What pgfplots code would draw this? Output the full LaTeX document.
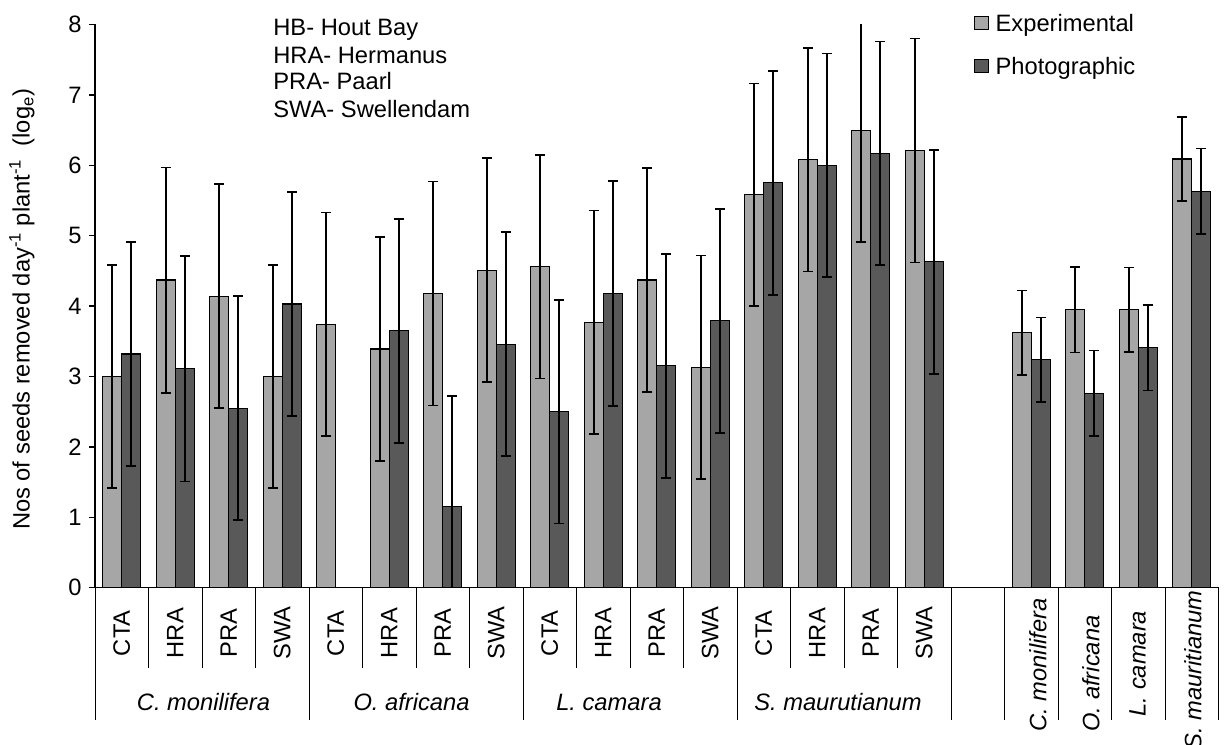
\documentclass[border=0pt]{standalone}
\usepackage{fontspec}
\setmainfont{Liberation Sans}
\usepackage{pgfplots}
\usepackage{pgfplotstable}
\pgfplotsset{compat=1.18}

\definecolor{expgray}{HTML}{A6A6A6}
\definecolor{photgray}{HTML}{595959}
\newcommand{\chartfont}{\fontsize{23.8}{28.5}\selectfont}

% Mean seeds removed (log_e) and standard errors; x = position on the axis
\pgfplotstableread{
x  y     err
0  3.00  1.58
1  4.37  1.60
2  4.14  1.59
3  3.00  1.58
4  3.74  1.59
5  3.39  1.59
6  4.18  1.59
7  4.51  1.59
8  4.56  1.59
9  3.77  1.59
10 4.37  1.59
11 3.13  1.59
12 5.58  1.58
13 6.08  1.59
14 6.50  1.59
15 6.21  1.59
17 3.62  0.60
18 3.95  0.61
19 3.95  0.60
20 6.09  0.60
}\exptable

\pgfplotstableread{
x  y     err
0  3.32  1.59
1  3.11  1.60
2  2.55  1.59
3  4.03  1.59
5  3.65  1.59
6  1.15  1.57
7  3.46  1.59
8  2.50  1.59
9  4.18  1.60
10 3.15  1.59
11 3.79  1.59
12 5.75  1.59
13 6.00  1.59
14 6.17  1.59
15 4.63  1.59
17 3.24  0.60
18 2.76  0.61
19 3.41  0.61
20 5.63  0.61
}\phototable

\pgfplotsset{
  sqlegend/.style={legend image code/.code={
    \draw[##1, line width=1bp] (0bp,1.5bp) rectangle (13.5bp,15bp);}},
  errstyle/.style={
    error bars/y dir=both, error bars/y explicit,
    error bars/error bar style={line width=1.7bp, black},
    error bars/error mark options={rotate=90, mark size=5bp, line width=1.7bp, black}},
}

\begin{document}
\begin{tikzpicture}
\useasboundingbox (-95bp,-157.3bp) rectangle (1130bp,587.7bp);
\begin{axis}[
  at={(0,0)}, anchor=south west,
  x=53.5bp, y=70.4bp,
  xmin=-0.5, xmax=20.5, ymin=0, ymax=8,
  axis lines*=left,
  axis line style={line width=1.6bp, black},
  xtick=\empty,
  ytick={0,1,...,8},
  tick align=outside, major tick length=6bp,
  tick style={line width=1.3bp, black},
  /pgf/number format/assume math mode=true,
  yticklabel style={font=\chartfont, xshift=-4bp},
  ylabel={Nos of seeds removed day\textsuperscript{-1} plant\textsuperscript{-1}\ \ (log\textsubscript{e})},
  ylabel style={font=\chartfont, at={(axis description cs:-0.065,0.494)}, anchor=center},
  ybar=0pt, bar width=19bp,
  clip mode=individual,
  legend style={at={(axis description cs:0.7825,1)}, anchor=north west, yshift=10.5bp,
    draw=none, fill=none, inner sep=0pt, outer sep=0pt,
    row sep={43bp,between origins}, column sep=0pt,
    nodes={inner xsep=7bp, inner ysep=0pt, font=\chartfont},
    cells={anchor=base west}},
]
\addplot[fill=expgray, draw=black, line width=1.1bp, sqlegend, errstyle]
  table[x=x, y=y, y error=err] {\exptable};
\addlegendentry{Experimental}
\addplot[fill=photgray, draw=black, line width=1.1bp, sqlegend, errstyle]
  table[x=x, y=y, y error=err] {\phototable};
\addlegendentry{Photographic}

% site abbreviations
\node[anchor=base west, font=\chartfont, inner sep=0pt] at (axis cs:2.83,7.837) {HB- Hout Bay};
\node[anchor=base west, font=\chartfont, inner sep=0pt] at (axis cs:2.83,7.453) {HRA- Hermanus};
\node[anchor=base west, font=\chartfont, inner sep=0pt] at (axis cs:2.83,7.070) {PRA- Paarl};
\node[anchor=base west, font=\chartfont, inner sep=0pt] at (axis cs:2.83,6.686) {SWA- Swellendam};
\end{axis}

% category table below the axis: one column per slot
\begin{scope}[x=53.5bp, y=1bp]
  \foreach \k in {1,2,3,5,6,7,9,10,11,13,14,15}
    \draw[line width=1bp] (\k,0) -- (\k,-80.3);
  \foreach \k in {0,4,8,12,16,17,18,19,20,21}
    \draw[line width=1bp] (\k,0) -- (\k,-132.3);
  \foreach \i/\s in {0/CTA,1/HRA,2/PRA,3/SWA,4/CTA,5/HRA,6/PRA,7/SWA,
                     8/CTA,9/HRA,10/PRA,11/SWA,12/CTA,13/HRA,14/PRA,15/SWA}
    \node[rotate=90, font=\chartfont, inner sep=0pt] at (\i+0.5,-45.5) {\s};
  \node[anchor=base, font=\chartfont\itshape, inner sep=0pt] at (108.5bp,-122.3bp) {C. monilifera};
  \node[anchor=base, font=\chartfont\itshape, inner sep=0pt] at (316.5bp,-122.3bp) {O. africana};
  \node[anchor=base, font=\chartfont\itshape, inner sep=0pt] at (514bp,-122.3bp) {L. camara};
  \node[anchor=base, font=\chartfont\itshape, inner sep=0pt] at (743bp,-122.3bp) {S. maurutianum};
  \node[rotate=90, font=\chartfont\itshape, inner sep=0pt] at (943bp,-77.3bp) {C. monilifera};
  \node[rotate=90, font=\chartfont\itshape, inner sep=0pt] at (996bp,-85.8bp) {O. africana};
  \node[rotate=90, font=\chartfont\itshape, inner sep=0pt] at (1042.5bp,-75.8bp) {L. camara};
  \node[rotate=90, font=\chartfont\itshape, inner sep=0pt] at (1098bp,-82.3bp) {S. mauritianum};
\end{scope}
\end{tikzpicture}
\end{document}
